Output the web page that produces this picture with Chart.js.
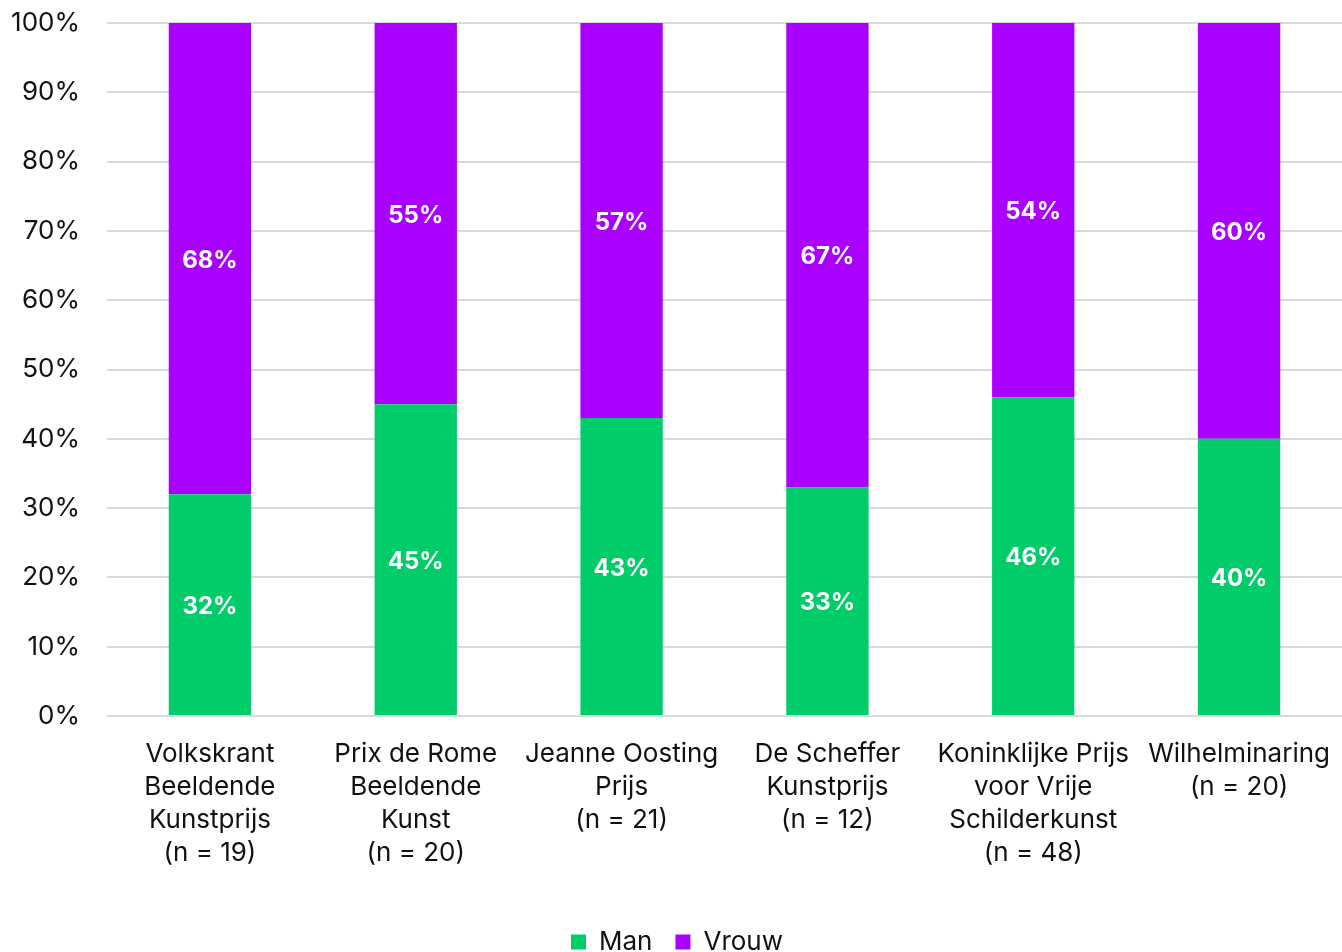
<!DOCTYPE html>
<html>
<head>
<meta charset="utf-8">
<script src="https://cdn.jsdelivr.net/npm/chart.js@4.4.1/dist/chart.umd.min.js"></script>
<style>
  html, body { margin: 0; padding: 0; background: #fff; }
  #wrap { width: 1342px; height: 952px; }
</style>
</head>
<body>
<div id="wrap"><canvas id="prijzen" width="1342" height="952"></canvas></div>
<script>
var prijzen = [
  ["Volkskrant", "Beeldende", "Kunstprijs", "(n = 19)"],
  ["Prix de Rome", "Beeldende", "Kunst", "(n = 20)"],
  ["Jeanne Oosting", "Prijs", "(n = 21)"],
  ["De Scheffer", "Kunstprijs", "(n = 12)"],
  ["Koninklijke Prijs", "voor Vrije", "Schilderkunst", "(n = 48)"],
  ["Wilhelminaring", "(n = 20)"]
];
var man = [32, 45, 43, 33, 46, 40];
var vrouw = [68, 55, 57, 67, 54, 60];
var yTicks = [0, 10, 20, 30, 40, 50, 60, 70, 80, 90, 100];

var fontName = "Inter, 'Noto Sans', sans-serif";

// simple label plugin, writes the % in the middle of each bar
var barLabels = {
  id: 'barLabels',
  afterDatasetsDraw: function(chart) {
    var ctx = chart.ctx;
    ctx.save();
    ctx.font = "bold 24px " + fontName;
    ctx.fillStyle = "#fff";
    ctx.textAlign = "center";
    ctx.textBaseline = "middle";
    chart.data.datasets.forEach(function(ds, i) {
      var meta = chart.getDatasetMeta(i);
      meta.data.forEach(function(bar, j) {
        var mid = (bar.y + bar.base) / 2 + 2;
        ctx.fillText(ds.data[j] + "%", bar.x, mid);
      });
    });
    ctx.restore();
  }
};

var data1 = {
  labels: prijzen,
  datasets: [{
    label: "Man",
    data: man,
    backgroundColor: "#00cc6a",
    barPercentage: 0.4,
    categoryPercentage: 1.0
  }, {
    label: "Vrouw",
    data: vrouw,
    backgroundColor: "#aa00ff",
    barPercentage: 0.4,
    categoryPercentage: 1.0
  }]
};

var options = {
  responsive: false,
  animation: false,
  layout: { padding: { left: 12, top: 23, right: 0, bottom: -13 } },
  plugins: {
    tooltip: { enabled: false },
    legend: {
      display: true,
      position: "bottom",
      labels: {
        color: "#111",
        font: { family: fontName, size: 26 },
        boxWidth: 15,
        boxHeight: 15,
        padding: 23
      }
    }
  },
  scales: {
    x: {
      stacked: true,
      grid: { display: false },
      border: { display: false },
      afterFit: function(axis) {
        axis.paddingLeft = 0;
        axis.paddingRight = 0;
        axis.height = 190;
      },
      ticks: {
        color: "#111",
        font: { family: fontName, size: 26, lineHeight: 1.27 },
        maxRotation: 0,
        autoSkip: false,
        padding: 14
      }
    },
    y: {
      stacked: true,
      min: 0,
      max: 100,
      afterBuildTicks: function(axis) {
        axis.ticks = yTicks.map(function(v) { return { value: v }; });
      },
      afterFit: function(axis) {
        axis.width = 95;
        axis.paddingTop = 0;
        axis.paddingBottom = 0;
      },
      grid: { color: "#d9d9d9", lineWidth: 2, drawTicks: false },
      border: { display: false },
      ticks: {
        color: "#111",
        font: { family: fontName, size: 26 },
        padding: 27,
        callback: function(v) { return v + "%"; }
      }
    }
  }
};

var ctx = document.getElementById("prijzen");
var chart = new Chart(ctx, {
  type: 'bar',
  data: data1,
  options: options,
  plugins: [barLabels]
});
</script>
</body>
</html>
